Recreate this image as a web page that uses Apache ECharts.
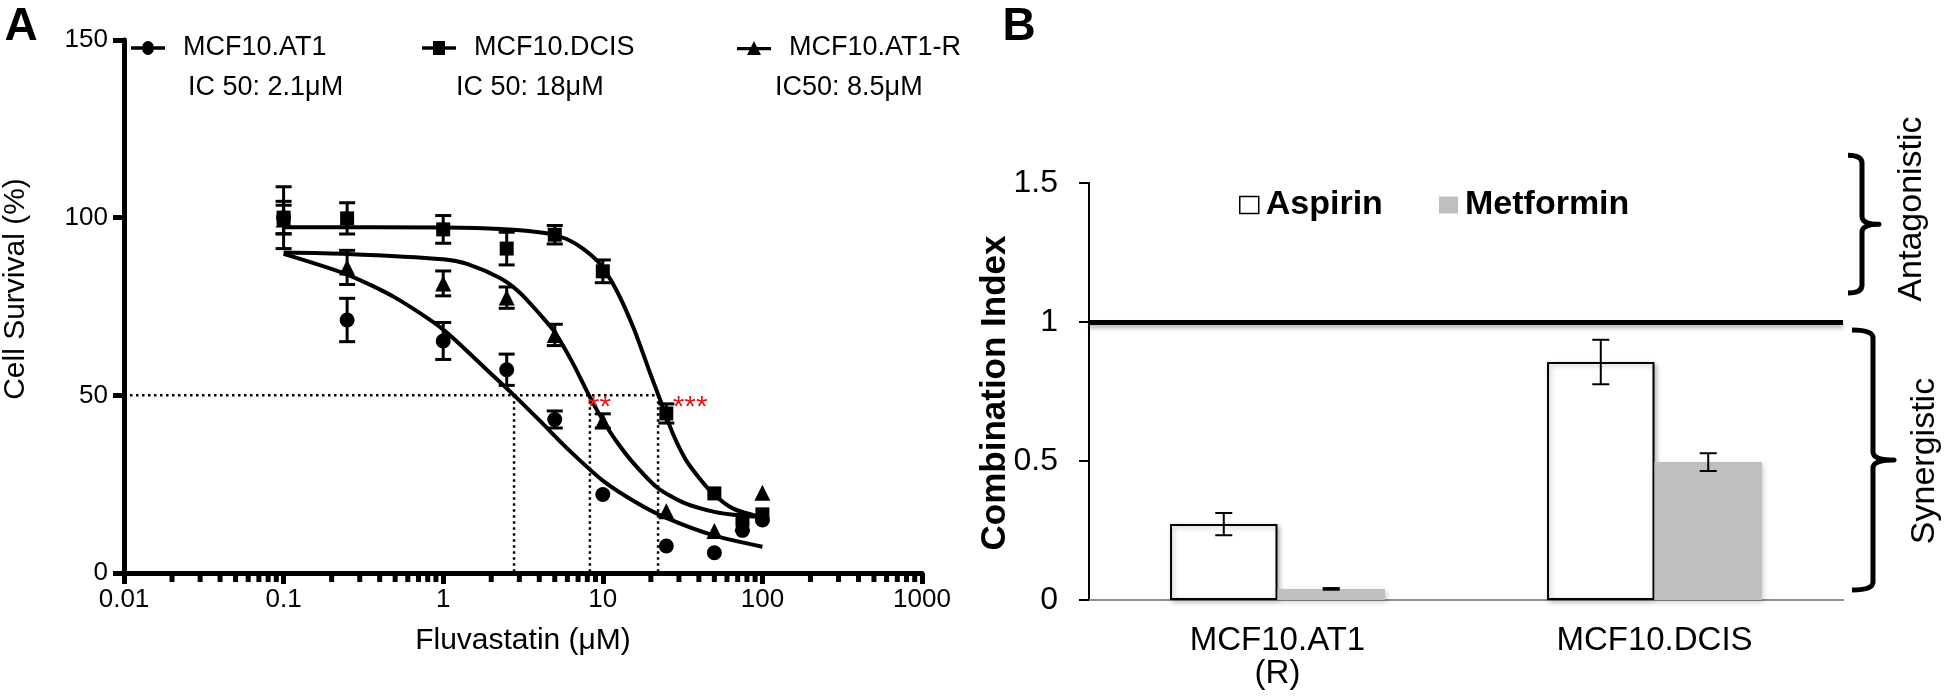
<!DOCTYPE html>
<html><head><meta charset="utf-8">
<script src="https://cdn.jsdelivr.net/npm/echarts@6/dist/echarts.min.js"></script>
<style>html,body{margin:0;padding:0;background:#fff}#c{width:1946px;height:698px}</style>
</head><body><div id="c"></div>
<script>
// ---------- Panel A data ----------
const conc = [0.1, 0.25, 1, 2.5, 5, 10, 25, 50, 75, 100];
const at1Mean  = [100, 71.2, 65.3, 57.2, 43.2, 22.1, 7.6, 5.7, 12, 14.9];
const at1Err   = [8.7, 6.1, 5.2, 4.4, 2.4, 0, 0, 0, 0, 0];
const dcisMean = [100, 99.8, 96.7, 91.3, 95.2, 84.9, 44.9, 22.4, 15, 16.5];
const dcisErr  = [4.6, 4.4, 3.9, 4.6, 2.6, 3.2, 2.7, 0, 0, 0];
const at1rMean = [99.5, 86, 81.5, 77.5, 67, 42.8, 17.4, 11.8, 14, 22.6];
const at1rErr  = [4, 4.8, 3.5, 3, 3, 2, 0, 0, 0, 0];

// fitted curves
const at1Curve = [[0.1,89.8],[0.25,84],[0.5,77.5],[1,68.5],[2,56],[2.78,50],[4,43],[6,35],[10,26],[16,20],[25,15.5],[50,10.5],[100,7.4]];
const dcisCurve = [[0.1,97.3],[1,97.2],[2.27,96.8],[4.45,95.6],[5.93,94],[7.54,91.2],[9.58,87],[12.2,79.5],[15.5,69.2],[19.7,56.5],[22.7,49.1],[27.5,39.2],[33.3,31.7],[40.4,26.6],[48.9,22.4],[65.2,18.2],[100,15.6]];
const at1rCurve = [[0.1,90.2],[0.25,89.8],[1,88.3],[1.41,87],[2.27,83],[3,79],[4,73],[5,67.8],[6.5,59],[8.3,49.5],[10,43],[12.2,37],[15.5,31],[22,24],[32,19.8],[50,17.2],[72,16.2],[100,15.8]];

const cellLines = ['MCF10.AT1', 'MCF10.DCIS', 'MCF10.AT1-R'];
const ic50Labels = ['IC 50: 2.1μM', 'IC 50: 18μM', 'IC50: 8.5μM'];
const icLineX = [2.78, 8.3, 22.2];
const icLevel = 50;
const sigMarks = [[8.05, 46.6, '**'], [27.4, 46.6, '***']];
const yTicksA = [0, 150, 50];           // min, max, interval
const xRangeA = [0.01, 1000];
const decades = [0.01, 0.1, 1, 10, 100];
const minorSteps = [2, 3, 4, 5, 6, 7, 8, 9];

// ---------- Panel B data ----------
const cats = ['MCF10.AT1\n(R)', 'MCF10.DCIS'];
const aspirin = [0.273, 0.856];
const aspirinErr = [0.04, 0.08];
const metformin = [0.04, 0.496];
const metforminErr = [0.003, 0.032];
const ciLevel = 1;
const braces = [['Antagonistic', 1.104, 1.60], ['Synergistic', 0.036, 0.971]];
const yTicksB = [0, 1.5, 0.5];

// ---------- styling ----------
const FONT = '"Liberation Sans", Arial, Helvetica, sans-serif';
const braceX = [[5, 19, 36], [9, 30, 51]];
const minorTicks = [];
decades.forEach(d => minorSteps.forEach(s => minorTicks.push(+(d * s).toPrecision(4))));

function errSeriesA(means, errs) {
  return {
    type: 'custom', xAxisIndex: 0, yAxisIndex: 0, z: 3, silent: true, clip: false,
    data: conc.map((c, i) => [c, means[i], errs[i]]).filter(d => d[2] > 0),
    renderItem(params, api) {
      const x = api.value(0), m = api.value(1), e = api.value(2);
      const t = api.coord([x, m + e]), b = api.coord([x, m - e]);
      const hw = 8, st = { stroke: '#000', lineWidth: 3 };
      return { type: 'group', children: [
        { type: 'line', shape: { x1: t[0], y1: t[1], x2: b[0], y2: b[1] }, style: st },
        { type: 'line', shape: { x1: t[0] - hw, y1: t[1], x2: t[0] + hw, y2: t[1] }, style: st },
        { type: 'line', shape: { x1: b[0] - hw, y1: b[1], x2: b[0] + hw, y2: b[1] }, style: st }
      ]};
    }
  };
}
function curveSeries(data) {
  return { type: 'line', xAxisIndex: 0, yAxisIndex: 0, data, showSymbol: false, smooth: 0.25,
    lineStyle: { color: '#000', width: 4 }, z: 2, silent: true };
}
function pointSeries(name, means, symbol, size) {
  return { type: 'scatter', name, xAxisIndex: 0, yAxisIndex: 0, symbol, symbolSize: size,
    itemStyle: { color: '#000', opacity: 1 }, z: 4, data: conc.map((c, i) => [c, means[i]]) };
}
function dotted(data) {
  return { type: 'line', xAxisIndex: 0, yAxisIndex: 0, data, showSymbol: false, silent: true,
    lineStyle: { color: '#000', width: 2.5, type: [2.5, 3.5] }, z: 1 };
}
function errSeriesB(vals, errs, side) {
  return {
    type: 'custom', xAxisIndex: 1, yAxisIndex: 1, z: 5, silent: true, clip: false,
    data: vals.map((v, i) => [i, v, errs[i], side]),
    renderItem(params, api) {
      const band = api.size([1, 0])[0];
      const m = api.value(1), e = api.value(2), s = api.value(3);
      const cx = api.coord([api.value(0), m])[0] + s * band * 0.1425;
      const t = api.coord([api.value(0), m + e])[1], b = api.coord([api.value(0), m - e])[1];
      const hw = 8.5, st = { stroke: '#000', lineWidth: 2 };
      return { type: 'group', children: [
        { type: 'line', shape: { x1: cx, y1: t, x2: cx, y2: b }, style: st },
        { type: 'line', shape: { x1: cx - hw, y1: t, x2: cx + hw, y2: t }, style: st },
        { type: 'line', shape: { x1: cx - hw, y1: b, x2: cx + hw, y2: b }, style: st }
      ]};
    }
  };
}

const iconLine = 'M0,5.5H34V8.5H0Z';
const legendIcons = [
  'path://' + iconLine + 'M11,7a6,6 0 1,1 12,0a6,6 0 1,1 -12,0Z',
  'path://' + iconLine + 'M11,1H23V13H11Z',
  'path://' + iconLine + 'M17,0L24,13H10Z'
];
const legendALeft = [131, 422, 737];
const icTextLeft = [188, 456, 775];

const legends = cellLines.map((n, i) => ({
  data: [{ name: n, icon: legendIcons[i] }], left: legendALeft[i], top: 33, padding: 0,
  itemWidth: 34, itemHeight: 14, selectedMode: false, symbolKeepAspect: false,
  itemStyle: { opacity: 1 },
  textStyle: { fontSize: 27, fontFamily: FONT, color: '#000', lineHeight: 30, padding: [0, 0, 0, 13] }
}));
legends.push({
  data: [{ name: 'Aspirin', itemStyle: { color: '#fff', borderColor: '#000', borderWidth: 1.5 } }],
  left: 1239, top: 188, padding: 0, itemWidth: 19, itemHeight: 17, icon: 'rect', selectedMode: false,
  textStyle: { fontSize: 34, fontWeight: 'bold', fontFamily: FONT, color: '#000', lineHeight: 34, padding: [0, 0, 0, 2] }
});
legends.push({
  data: ['Metformin'], left: 1439, top: 188, padding: 0, itemWidth: 19, itemHeight: 17, icon: 'rect', selectedMode: false,
  textStyle: { fontSize: 34, fontWeight: 'bold', fontFamily: FONT, color: '#000', lineHeight: 34, padding: [0, 0, 0, 2] }
});

const texts = [
  { text: 'A', x: 21, y: 27, size: 46, weight: 'bold' },
  { text: 'B', x: 1019, y: 27, size: 46, weight: 'bold' },
  { text: 'Cell Survival (%)', x: 16, y: 289, size: 30, rot: 1 },
  { text: 'Fluvastatin (μM)', x: 523, y: 641, size: 30 },
  { text: 'Combination Index', x: 995, y: 393, size: 35, weight: 'bold', rot: 1 },
  { text: 'Antagonistic', x: 1912, y: 209, size: 34, rot: 1 },
  { text: 'Synergistic', x: 1925, y: 461, size: 34, rot: 1 }
];
const graphic = texts.map(t => ({
  type: 'text', x: t.x, y: t.y, rotation: t.rot ? Math.PI / 2 : 0, silent: true,
  style: { text: t.text, fontSize: t.size, fontWeight: t.weight || 'normal', fontFamily: FONT,
    fill: '#000', align: 'center', verticalAlign: 'middle' }
}));
ic50Labels.forEach((s, i) => graphic.push({
  type: 'text', x: icTextLeft[i], y: 88, silent: true,
  style: { text: s, fontSize: 27, fontFamily: FONT, fill: '#000', align: 'left', verticalAlign: 'middle' }
}));

const option = {
  animation: false,
  backgroundColor: '#fff',
  grid: [
    { left: 124, top: 40, width: 798, height: 533, containLabel: false },
    { left: 1089, top: 183, width: 754, height: 417, containLabel: false }
  ],
  legend: legends,
  graphic,
  xAxis: [
    { type: 'log', logBase: 10, gridIndex: 0, min: xRangeA[0], max: xRangeA[1],
      axisLine: { onZero: false, lineStyle: { color: '#000', width: 5 } },
      axisTick: { length: 11, lineStyle: { color: '#000', width: 5 } },
      axisLabel: { fontSize: 26, fontFamily: FONT, color: '#000', margin: 14,
        formatter: v => String(+(+v).toPrecision(6)) },
      splitLine: { show: false }, minorTick: { show: false } },
    { type: 'category', gridIndex: 1, data: cats,
      axisLine: { onZero: false, lineStyle: { color: '#8c8c8c', width: 2 } },
      axisTick: { length: 10, lineStyle: { color: '#8c8c8c', width: 2 } },
      axisLabel: { fontSize: 33, fontFamily: FONT, color: '#000', margin: 24, lineHeight: 33 } }
  ],
  yAxis: [
    { type: 'value', gridIndex: 0, min: yTicksA[0], max: yTicksA[1], interval: yTicksA[2],
      axisLine: { show: true, onZero: false, lineStyle: { color: '#000', width: 5 } },
      axisTick: { show: true, length: 11, lineStyle: { color: '#000', width: 5 } },
      axisLabel: { fontSize: 26, fontFamily: FONT, color: '#000', margin: 16 },
      splitLine: { show: false } },
    { type: 'value', gridIndex: 1, min: yTicksB[0], max: yTicksB[1], interval: yTicksB[2],
      axisLine: { show: true, onZero: false, lineStyle: { color: '#000', width: 2 } },
      axisTick: { show: true, length: 10, lineStyle: { color: '#000', width: 2 } },
      axisLabel: { fontSize: 32, fontFamily: FONT, color: '#000', margin: 31 },
      splitLine: { show: false } }
  ],
  series: [
    dotted([[xRangeA[0], icLevel], [Math.max(...icLineX), icLevel]]),
    ...icLineX.map(x => dotted([[x, icLevel], [x, 0]])),
    { type: 'custom', xAxisIndex: 0, yAxisIndex: 0, silent: true, clip: false, z: 6,
      data: minorTicks.map(v => [v, 0]),
      renderItem(params, api) {
        const p = api.coord([api.value(0), 0]);
        return { type: 'line', shape: { x1: p[0], y1: p[1], x2: p[0], y2: p[1] + 9 },
          style: { stroke: '#000', lineWidth: 5 } };
      } },
    curveSeries(at1Curve), curveSeries(dcisCurve), curveSeries(at1rCurve),
    errSeriesA(at1Mean, at1Err), errSeriesA(dcisMean, dcisErr), errSeriesA(at1rMean, at1rErr),
    pointSeries(cellLines[0], at1Mean, 'circle', 15),
    pointSeries(cellLines[1], dcisMean, 'rect', 14),
    pointSeries(cellLines[2], at1rMean, 'triangle', 16),
    { type: 'scatter', xAxisIndex: 0, yAxisIndex: 0, symbolSize: 0, silent: true, z: 7,
      itemStyle: { opacity: 1 },
      data: sigMarks.map(d => ({ value: [d[0], d[1]], label: { formatter: d[2] } })),
      label: { show: true, position: 'right', distance: 0, color: '#e3191c', opacity: 1, fontSize: 30, fontFamily: FONT } },
    // Panel B
    { type: 'bar', name: 'Aspirin', xAxisIndex: 1, yAxisIndex: 1, data: aspirin,
      barGap: '0%', barCategoryGap: '43%',
      itemStyle: { color: '#fff', borderColor: '#000', borderWidth: 2,
        shadowBlur: 5, shadowColor: 'rgba(0,0,0,0.25)', shadowOffsetX: 2, shadowOffsetY: 2 },
      markLine: { silent: true, symbol: 'none', label: { show: false },
        lineStyle: { color: '#000', width: 5, type: 'solid', shadowBlur: 4, shadowColor: 'rgba(0,0,0,0.3)', shadowOffsetY: 3 },
        data: [{ yAxis: ciLevel }] } },
    { type: 'bar', name: 'Metformin', xAxisIndex: 1, yAxisIndex: 1, data: metformin,
      barGap: '0%', barCategoryGap: '43%',
      itemStyle: { color: '#bfbfbf', shadowBlur: 5, shadowColor: 'rgba(0,0,0,0.2)', shadowOffsetX: 2, shadowOffsetY: 2 } },
    errSeriesB(aspirin, aspirinErr, -1),
    errSeriesB(metformin, metforminErr, 1),
    { type: 'custom', xAxisIndex: 1, yAxisIndex: 1, silent: true, clip: false, z: 6,
      data: braces.map(b => [0, b[1], b[2]]),
      renderItem(params, api) {
        const yt = api.coord([0, api.value(2)])[1], yb = api.coord([0, api.value(1)])[1];
        const xr = params.coordSys.x + params.coordSys.width;
        const o = braceX[params.dataIndex];
        const h = xr + o[0], s = xr + o[1], t = xr + o[2], ym = (yt + yb) / 2, r = 8;
        const d = `M${h},${yt} Q${s},${yt} ${s},${yt + r} L${s},${ym - r} Q${s},${ym} ${t},${ym} ` +
                  `Q${s},${ym} ${s},${ym + r} L${s},${yb - r} Q${s},${yb} ${h},${yb}`;
        return { type: 'path', shape: { pathData: d },
          style: { stroke: '#000', lineWidth: 5, fill: null, lineJoin: 'round' } };
      } }
  ]
};
const chart = echarts.init(document.getElementById('c'));
chart.setOption(option);
</script>
</body></html>
